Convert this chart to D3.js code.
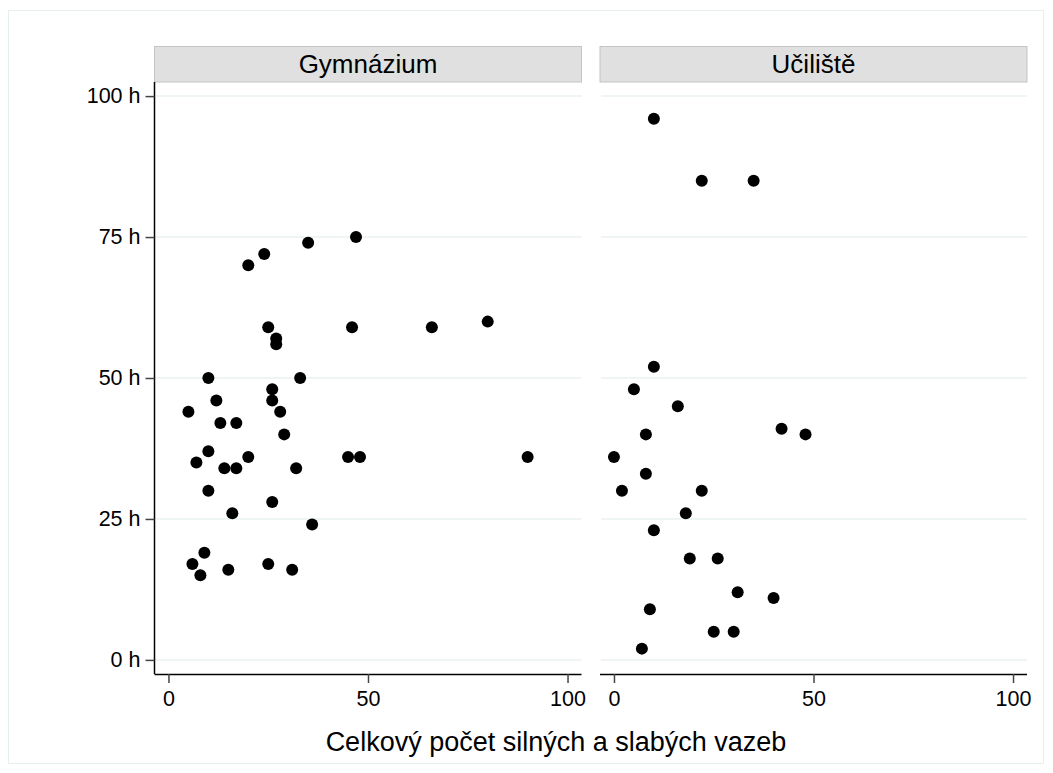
<!DOCTYPE html>
<html>
<head>
<meta charset="utf-8">
<script src="https://cdn.jsdelivr.net/npm/d3@7"></script>
<style>
  html, body { margin: 0; padding: 0; background: #fff; }
  svg { display: block; font-family: Arial, "Liberation Sans", sans-serif; }
</style>
</head>
<body>
<svg id="chart" width="1053" height="773"></svg>
<script>
// ---- data ----
const panels = ["Gymnázium", "Učiliště"];
const gymX = [5, 7, 6, 8, 9, 10, 10, 10, 12, 13, 14, 15, 16, 17, 17, 20, 20, 24, 25, 25, 26, 26, 26, 27, 27, 28, 29, 31, 32, 33, 35, 36, 45, 46, 47, 48, 66, 80, 90];
const gymY = [44, 35, 17, 15, 19, 30, 37, 50, 46, 42, 34, 16, 26, 42, 34, 36, 70, 72, 59, 17, 48, 46, 28, 57, 56, 44, 40, 16, 34, 50, 74, 24, 36, 59, 75, 36, 59, 60, 36];
const ucX = [10, 22, 35, 10, 5, 16, 8, 42, 48, 0, 8, 2, 22, 18, 10, 19, 26, 31, 40, 9, 25, 30, 7];
const ucY = [96, 85, 85, 52, 48, 45, 40, 41, 40, 36, 33, 30, 30, 26, 23, 18, 18, 12, 11, 9, 5, 5, 2];
const xTicks = [0, 50, 100];
const yTicks = [0, 25, 50, 75, 100];
const xTitle = "Celkový počet silných a slabých vazeb";

(function () {
  const svg = d3.select("#chart");

  // outer frame
  svg.append("rect").attr("x", 8.5).attr("y", 10.5).attr("width", 1035).attr("height", 753)
    .attr("fill", "#fff").attr("stroke", "#e6eeef").attr("stroke-width", 1);

  const plotTop = 82, plotBottom = 674;
  const panelLefts = [154.5, 600];
  const panelW = 427;
  const y = d3.scaleLinear().domain([-2.5, 102.5]).range([plotBottom, plotTop]);

  const datasets = [
    gymX.map((v, i) => ({ x: v, y: gymY[i] })),
    ucX.map((v, i) => ({ x: v, y: ucY[i] }))
  ];

  panels.forEach((name, pi) => {
    const left = panelLefts[pi];
    const x = d3.scaleLinear().domain([-3.5, 103.5]).range([left, left + panelW]);
    const g = svg.append("g");

    // header strip
    g.append("rect").attr("x", left).attr("y", 46.5).attr("width", panelW).attr("height", 35.5)
      .attr("fill", "#e0e0e0").attr("stroke", "#c4c4c4").attr("stroke-width", 1);
    g.append("text").attr("x", left + panelW / 2).attr("y", 73)
      .attr("text-anchor", "middle").attr("font-size", 26).attr("fill", "#000").text(name);

    // gridlines
    g.selectAll("line.grid").data(yTicks).enter().append("line")
      .attr("class", "grid")
      .attr("x1", left + 1).attr("x2", left + panelW)
      .attr("y1", d => y(d)).attr("y2", d => y(d))
      .attr("stroke", "#eaf1f2").attr("stroke-width", 1.5);

    // x axis
    const xAxis = d3.axisBottom(x).tickValues(xTicks).tickSize(9).tickPadding(8).tickFormat(d3.format("d"));
    const xa = g.append("g").attr("transform", `translate(0,${plotBottom})`).call(xAxis);
    xa.select(".domain").attr("d", `M${left},0.5H${left + panelW}`).attr("stroke", "#000").attr("stroke-width", 1.5);
    xa.selectAll(".tick line").attr("stroke", "#444").attr("stroke-width", 1.5);
    xa.selectAll(".tick text").attr("font-size", 21.5).attr("fill", "#000")
      .attr("font-family", "Arial, 'Liberation Sans', sans-serif");

    if (pi === 0) {
      const yAxis = d3.axisLeft(y).tickValues(yTicks).tickSize(9).tickPadding(5).tickFormat(d => d + " h");
      const ya = g.append("g").attr("transform", `translate(${left},0)`).call(yAxis);
      ya.select(".domain").attr("d", `M0,${plotTop}V${plotBottom}`).attr("stroke", "#000").attr("stroke-width", 1.5);
      ya.selectAll(".tick line").attr("stroke", "#444").attr("stroke-width", 1.5);
      ya.selectAll(".tick text").attr("font-size", 21.5).attr("fill", "#000")
        .attr("font-family", "Arial, 'Liberation Sans', sans-serif");
    }

    // points
    g.selectAll("circle.pt").data(datasets[pi]).enter().append("circle")
      .attr("class", "pt")
      .attr("cx", d => x(d.x)).attr("cy", d => y(d.y)).attr("r", 6).attr("fill", "#000");
  });

  // x title
  svg.append("text").attr("x", 556).attr("y", 751).attr("text-anchor", "middle")
    .attr("font-size", 27).attr("fill", "#000").text(xTitle);
})();
</script>
</body>
</html>
